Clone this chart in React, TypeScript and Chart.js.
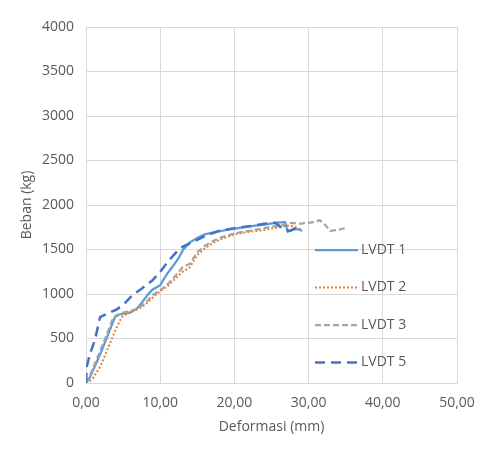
import React, { useEffect, useRef } from "react";
import { Chart, registerables } from "chart.js";

Chart.register(...registerables);

const seriesNames = ["LVDT 1", "LVDT 2", "LVDT 3", "LVDT 5"];

const lvdt1X = [0, 0.5, 1, 2, 3, 3.9, 4.5, 5.9, 6.8, 7.5, 8.3, 8.9, 10, 10.5, 11, 11.6, 12.2, 12.6, 13.1, 14, 15, 16, 17.7, 19, 20.5, 22, 24, 25.5, 26.8, 27.2, 27.5, 28.3, 29];
const lvdt1Y = [0, 60, 150, 340, 550, 740, 770, 790, 830, 900, 990, 1045, 1100, 1170, 1235, 1300, 1370, 1420, 1500, 1580, 1630, 1670, 1700, 1720, 1740, 1760, 1780, 1800, 1810, 1700, 1710, 1730, 1720];

const lvdt2X = [0, 0.5, 1, 2, 3, 4, 4.8, 6, 7, 8, 9, 10, 11, 12, 13, 14, 15, 16, 17, 18, 19, 20, 22, 24, 26, 27, 28, 29];
const lvdt2Y = [0, 20, 60, 200, 400, 600, 740, 800, 830, 880, 960, 1030, 1090, 1170, 1250, 1300, 1440, 1510, 1570, 1610, 1640, 1670, 1700, 1720, 1750, 1770, 1760, 1720];

const lvdt3X = [0, 0.5, 1, 1.5, 2.5, 3.5, 4, 5, 6, 7, 8, 9, 10, 11, 12, 13, 14, 15, 16, 17, 18, 20, 22, 24, 26, 27.5, 29, 30.9, 31.5, 32.3, 32.9, 34, 34.9];
const lvdt3Y = [0, 80, 180, 280, 480, 700, 760, 790, 810, 840, 900, 990, 1040, 1110, 1200, 1300, 1340, 1470, 1540, 1590, 1630, 1680, 1710, 1740, 1770, 1800, 1790, 1810, 1830, 1770, 1710, 1720, 1740];

const lvdt5X = [0, 0.1, 0.5, 1.2, 1.9, 3, 4, 5, 6.3, 7.5, 9, 10, 11, 12.2, 13, 14.4, 16, 17.1, 18, 20, 22, 24, 25.5, 26, 26.7, 27.5, 28.3, 29.1];
const lvdt5Y = [0, 180, 320, 483, 740, 786, 820, 876, 990, 1060, 1157, 1250, 1360, 1472, 1530, 1584, 1650, 1685, 1710, 1740, 1760, 1790, 1800, 1770, 1720, 1710, 1745, 1710];

const xTicks = [0, 10, 20, 30, 40, 50];
const yTicks = [0, 500, 1000, 1500, 2000, 2500, 3000, 3500, 4000];

const colors = ["#5B9BD5", "#ED7D31", "#A5A5A5", "#4472C4"];
const dashes = [[], [2, 2], [6, 3], [10, 6]];
const widths = [2.25, 2, 2.25, 2.5];

const textColor = "#595959";
const gridColor = "#D9D9D9";
const fontFamily = "'Open Sans', 'Liberation Sans', sans-serif";
const fontSize = 14;

function toPoints(xs: number[], ys: number[]) {
  return xs.map((x, i) => ({ x, y: ys[i] }));
}

const legendPlugin = {
  id: "insideLegend",
  afterDraw(chart: any) {
    const { ctx, chartArea } = chart;
    const x0 = chartArea.left + 229;
    const lineLen = 43;
    const y0 = chartArea.top + 223;
    const step = 37.5;
    ctx.save();
    chart.data.datasets.forEach((ds: any, i: number) => {
      const y = y0 + i * step;
      ctx.beginPath();
      ctx.strokeStyle = ds.borderColor;
      ctx.lineWidth = ds.borderWidth;
      ctx.setLineDash(ds.borderDash || []);
      ctx.moveTo(x0, y);
      ctx.lineTo(x0 + lineLen, y);
      ctx.stroke();
      ctx.setLineDash([]);
      ctx.fillStyle = textColor;
      ctx.font = `${fontSize}px ${fontFamily}`;
      ctx.textBaseline = "middle";
      ctx.textAlign = "left";
      ctx.fillText(ds.label, x0 + lineLen + 3, y);
    });
    ctx.restore();
  },
};

export default function App() {
  const ref = useRef<HTMLCanvasElement | null>(null);
  useEffect(() => {
    if (!ref.current) return;
    const all = [
      [lvdt1X, lvdt1Y],
      [lvdt2X, lvdt2Y],
      [lvdt3X, lvdt3Y],
      [lvdt5X, lvdt5Y],
    ];
    const chart = new Chart(ref.current, {
      type: "scatter",
      data: {
        datasets: all.map(([xs, ys], i) => ({
          label: seriesNames[i],
          data: toPoints(xs, ys),
          showLine: true,
          borderColor: colors[i],
          backgroundColor: colors[i],
          borderWidth: widths[i],
          borderDash: dashes[i],
          pointRadius: 0,
          tension: 0,
          order: 3 - i,
        })),
      },
      options: {
        animation: false,
        responsive: false,
        layout: { padding: { left: 0, top: 27, right: 32, bottom: 0 } },
        plugins: { legend: { display: false }, tooltip: { enabled: false } },
        scales: {
          x: {
            type: "linear",
            min: 0,
            max: 50,
            afterBuildTicks: (s: any) => {
              s.ticks = xTicks.map((v) => ({ value: v }));
            },
            afterFit: (s: any) => {
              s.height = 66;
            },
            grid: { color: gridColor, drawTicks: false, lineWidth: 1 },
            border: { color: gridColor },
            ticks: {
              color: textColor,
              font: { size: fontSize, family: fontFamily },
              padding: 12,
              callback: (v: any) => Number(v).toFixed(2).replace(".", ","),
            },
            title: {
              display: true,
              text: "Deformasi (mm)",
              color: textColor,
              font: { size: fontSize, family: fontFamily },
              padding: { top: 0, bottom: 14 },
            },
          },
          y: {
            type: "linear",
            min: 0,
            max: 4000,
            afterBuildTicks: (s: any) => {
              s.ticks = yTicks.map((v) => ({ value: v }));
            },
            afterFit: (s: any) => {
              s.width = 86;
            },
            grid: { color: gridColor, drawTicks: false, lineWidth: 1 },
            border: { color: gridColor },
            ticks: {
              color: textColor,
              font: { size: fontSize, family: fontFamily },
              padding: 12,
              callback: (v: any) => String(v),
            },
            title: {
              display: true,
              text: "Beban (kg)",
              color: textColor,
              font: { size: fontSize, family: fontFamily },
              padding: { top: 19, bottom: 0 },
            },
          },
        },
      },
      plugins: [legendPlugin],
    });
    return () => chart.destroy();
  }, []);
  return (
    <div style={{ position: "absolute", left: 0, top: 0, width: 489, height: 449, background: "#fff" }}>
      <canvas ref={ref} width={489} height={449} style={{ display: "block" }} />
    </div>
  );
}
